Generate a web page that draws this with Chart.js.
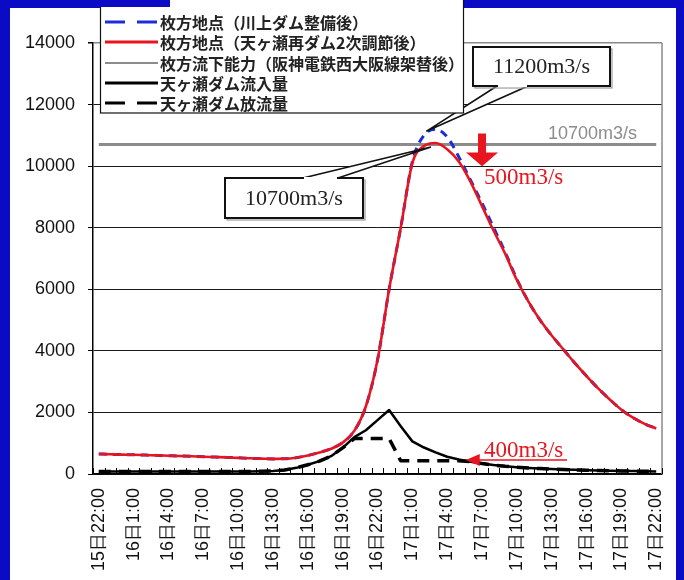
<!DOCTYPE html>
<html><head><meta charset="utf-8">
<script src="https://cdn.jsdelivr.net/npm/chart.js@4.4.0/dist/chart.umd.min.js"></script>
<style>html,body{margin:0;padding:0;background:#0b0bc6;}canvas{display:block;}</style>
</head><body>
<canvas id="c" width="684" height="580"></canvas>
<script>
// ---- data ----
const categories = [
 '15日22:00','15日23:00',
 '16日0:00','16日1:00','16日2:00','16日3:00','16日4:00','16日5:00','16日6:00','16日7:00',
 '16日8:00','16日9:00','16日10:00','16日11:00','16日12:00','16日13:00','16日14:00','16日15:00',
 '16日16:00','16日17:00','16日18:00','16日19:00','16日20:00','16日21:00','16日22:00','16日23:00',
 '17日0:00','17日1:00','17日2:00','17日3:00','17日4:00','17日5:00','17日6:00','17日7:00',
 '17日8:00','17日9:00','17日10:00','17日11:00','17日12:00','17日13:00','17日14:00','17日15:00',
 '17日16:00','17日17:00','17日18:00','17日19:00','17日20:00','17日21:00','17日22:00'
];
const seriesLabels = [
 '枚方地点（川上ダム整備後）',
 '枚方地点（天ヶ瀬再ダム2次調節後）',
 '枚方流下能力（阪神電鉄西大阪線架替後）',
 '天ヶ瀬ダム流入量',
 '天ヶ瀬ダム放流量'
];
const hirakataKawakami = [650,640,630,625,615,605,595,585,575,560,
 550,540,525,510,500,490,495,530,600,700,
 820,1020,1400,2200,3700,6000,8000,10150,11000,11200,
 10950,10300,9550,8800,8000,7200,6330,5600,5000,4500,
 4050,3600,3180,2780,2420,2090,1830,1630,1480];
const hirakataAmagase = [650,640,630,625,615,605,595,585,575,560,
 550,540,525,510,500,490,495,530,600,700,
 820,1020,1400,2200,3700,6000,8000,10100,10650,10750,
 10550,10150,9500,8700,7900,7150,6300,5600,5000,4500,
 4050,3600,3180,2780,2420,2090,1830,1630,1480];
const hirakataCapacity = [10700,10700,10700,10700,10700,10700,10700,10700,10700,10700,
 10700,10700,10700,10700,10700,10700,10700,10700,10700,10700,
 10700,10700,10700,10700,10700,10700,10700,10700,10700,10700,
 10700,10700,10700,10700,10700,10700,10700,10700,10700,10700,
 10700,10700,10700,10700,10700,10700,10700,10700,10700];
const amagaseInflow = [80,80,80,80,80,80,80,80,80,80,
 80,80,80,80,90,100,130,200,300,420,
 580,850,1200,1420,1750,2080,1550,1060,860,700,
 560,470,400,340,290,250,220,195,175,160,
 145,135,125,115,108,100,95,90,85];
const amagaseOutflow = [80,80,80,80,80,80,80,80,80,80,
 80,80,80,80,90,100,130,200,300,420,
 580,850,1150,1150,1150,1150,430,430,430,430,
 430,430,400,340,290,250,220,195,175,160,
 145,135,125,115,108,100,95,90,85];
const yTicks = [0,2000,4000,6000,8000,10000,12000,14000];
const labelStep = 3;

// ---- styles ----
const BLUE_BG = '#0b0bc6';
const styles = [
 {color:'#1c2fd6', width:3, dash:[8,6], order:4, tension:'mono'},
 {color:'#e8141e', width:2.6, dash:[], order:3, tension:'mono'},
 {color:'#8c8c8c', width:3, dash:[], order:5, tension:'mono'},
 {color:'#000000', width:2.5, dash:[], order:2, tension:0},
 {color:'#000000', width:3.5, dash:[12,8], order:1, tension:0}
];
const seriesData = [hirakataKawakami, hirakataAmagase, hirakataCapacity, amagaseInflow, amagaseOutflow];

const datasets = seriesData.map((d, k) => {
  const s = styles[k];
  const ds = {
    label: seriesLabels[k], data: d,
    borderColor: s.color, backgroundColor: s.color,
    borderWidth: s.width, borderDash: s.dash, order: s.order,
    pointRadius: 0, fill: false, borderCapStyle: 'butt', borderJoinStyle: 'round'
  };
  if (s.tension === 'mono') ds.cubicInterpolationMode = 'monotone';
  else ds.tension = 0;
  return ds;
});

function callout(ctx, box, baseA, baseB, tip, text) {
  ctx.save();
  ctx.beginPath();
  ctx.moveTo(baseA[0], baseA[1]);
  ctx.lineTo(tip[0], tip[1]);
  ctx.lineTo(baseB[0], baseB[1]);
  ctx.closePath();
  ctx.fillStyle = '#fff'; ctx.fill();
  ctx.strokeStyle = '#111'; ctx.lineWidth = 1.6; ctx.stroke();
  ctx.strokeStyle = '#9a9a9a'; ctx.lineWidth = 1.2;
  ctx.strokeRect(box[0] + 2, box[1] + 2, box[2] - box[0], box[3] - box[1]);
  ctx.fillStyle = '#fff';
  ctx.fillRect(box[0], box[1], box[2] - box[0], box[3] - box[1]);
  ctx.strokeStyle = '#111'; ctx.lineWidth = 2;
  ctx.strokeRect(box[0], box[1], box[2] - box[0], box[3] - box[1]);
  ctx.beginPath();
  ctx.moveTo(baseA[0] + 1, baseA[1]); ctx.lineTo(baseB[0] - 1, baseB[1]);
  ctx.strokeStyle = '#fff'; ctx.lineWidth = 2.2; ctx.stroke();
  ctx.fillStyle = '#222';
  ctx.font = '22px "Liberation Serif", "Times New Roman", serif';
  ctx.textAlign = 'center'; ctx.textBaseline = 'middle';
  ctx.fillText(text, (box[0] + box[2]) / 2, (box[1] + box[3]) / 2 + 1);
  ctx.restore();
}

const decor = {
  id: 'decor',
  beforeDraw(chart) {
    const ctx = chart.ctx;
    ctx.save();
    ctx.fillStyle = BLUE_BG; ctx.fillRect(0, 0, chart.width, chart.height);
    ctx.fillStyle = '#ffffff'; ctx.fillRect(10, 8, 666, 572);
    ctx.restore();
  },
  afterDraw(chart) {
    const ctx = chart.ctx, a = chart.chartArea;
    const xs = chart.scales.x, ys = chart.scales.y;
    ctx.save();
    ctx.strokeStyle = '#8a8a8a'; ctx.lineWidth = 1.5;
    ctx.beginPath(); ctx.moveTo(a.right, a.top); ctx.lineTo(a.right, a.bottom); ctx.stroke();
    ctx.strokeStyle = '#000'; ctx.lineWidth = 1;
    for (let k = 0; k <= categories.length; k++) {
      const x = Math.round(xs.getPixelForValue(k - 0.5)) + 0.5;
      ctx.beginPath(); ctx.moveTo(x, a.bottom); ctx.lineTo(x, a.bottom - 6); ctx.stroke();
    }
    ctx.fillStyle = '#8c8c8c';
    ctx.font = '18px "Liberation Sans", Arial, sans-serif';
    ctx.textAlign = 'left'; ctx.textBaseline = 'alphabetic';
    ctx.fillText('10700m3/s', 548, ys.getPixelForValue(10700) - 6);

    callout(ctx, [473, 47, 610, 86], [497, 86], [528, 86],
      [xs.getPixelForValue(28.2), ys.getPixelForValue(11130)], '11200m3/s');
    callout(ctx, [225, 178, 363, 218], [303, 178], [338, 178],
      [xs.getPixelForValue(28.6), ys.getPixelForValue(10620)], '10700m3/s');

    const red = '#e8151e';
    const ax = xs.getPixelForValue(33);
    const yTop = ys.getPixelForValue(11060), yMid = ys.getPixelForValue(10440), yTip = ys.getPixelForValue(10000);
    ctx.fillStyle = red;
    ctx.fillRect(ax - 4, yTop, 8, yMid - yTop + 1);
    ctx.beginPath(); ctx.moveTo(ax - 16, yMid); ctx.lineTo(ax + 16, yMid); ctx.lineTo(ax, yTip); ctx.closePath(); ctx.fill();
    ctx.font = '23px "Liberation Serif", "Times New Roman", serif';
    ctx.textAlign = 'left'; ctx.textBaseline = 'alphabetic';
    ctx.fillText('500m3/s', 484, 184);
    ctx.fillText('400m3/s', 484, 457);
    const tipX = xs.getPixelForValue(31.6), tipY = 460;
    ctx.strokeStyle = red; ctx.lineWidth = 1.5;
    ctx.beginPath(); ctx.moveTo(tipX + 10, tipY); ctx.lineTo(567, tipY); ctx.stroke();
    ctx.beginPath(); ctx.moveTo(tipX, tipY); ctx.lineTo(tipX + 14, tipY - 6); ctx.lineTo(tipX + 14, tipY + 6); ctx.closePath(); ctx.fill();

    ctx.fillStyle = '#fff'; ctx.fillRect(100, -2, 363, 115);
    ctx.strokeStyle = '#111'; ctx.lineWidth = 1.2; ctx.strokeRect(100.5, -2, 363, 115);
    const rows = [22, 42, 63, 83, 103];
    ctx.font = 'bold 16px "Noto Sans CJK JP", sans-serif';
    ctx.textBaseline = 'middle'; ctx.textAlign = 'left';
    datasets.forEach((ds, k) => {
      const s = styles[k];
      ctx.strokeStyle = s.color; ctx.lineWidth = k === 2 ? 2 : 3;
      ctx.setLineDash(s.dash.length ? [20, 12] : []);
      ctx.beginPath(); ctx.moveTo(105, rows[k]); ctx.lineTo(158, rows[k]); ctx.stroke();
      ctx.setLineDash([]);
      ctx.fillStyle = '#222';
      ctx.fillText(ds.label, 160, rows[k] + 1);
    });
    ctx.fillStyle = BLUE_BG; ctx.fillRect(88, 0, 82, 7);
    ctx.restore();
  }
};

new Chart(document.getElementById('c'), {
  type: 'line',
  data: { labels: categories, datasets },
  options: {
    responsive: false, animation: false, devicePixelRatio: 1,
    layout: { padding: { top: 43, right: 18, left: 0, bottom: 0 } },
    plugins: { legend: { display: false }, tooltip: { enabled: false } },
    scales: {
      x: {
        type: 'category', offset: true,
        grid: { display: false },
        border: { display: true, color: '#000', width: 1.5 },
        ticks: {
          autoSkip: false, maxRotation: 90, minRotation: 90, padding: 6,
          color: '#111', font: { family: '"Liberation Sans", Arial, sans-serif', size: 18 },
          callback: (v, i) => (i % labelStep === 0 ? categories[i] : '')
        },
        afterFit: s => { s.height = 106; }
      },
      y: {
        min: 0, max: 14000,
        afterBuildTicks: s => { s.ticks = yTicks.map(v => ({ value: v })); },
        grid: {
          color: c => (c.tick && c.tick.value === 14000 ? '#8a8a8a' : '#1a1a1a'),
          lineWidth: c => (c.tick && c.tick.value === 14000 ? 1.5 : 1),
          tickLength: 5, tickColor: '#000'
        },
        border: { display: true, color: '#000', width: 1.5 },
        ticks: {
          padding: 13, color: '#111',
          font: { family: '"Liberation Sans", Arial, sans-serif', size: 18 },
          callback: v => String(v)
        },
        afterFit: s => { s.width = 93; }
      }
    }
  },
  plugins: [decor]
});
</script>
</body></html>
